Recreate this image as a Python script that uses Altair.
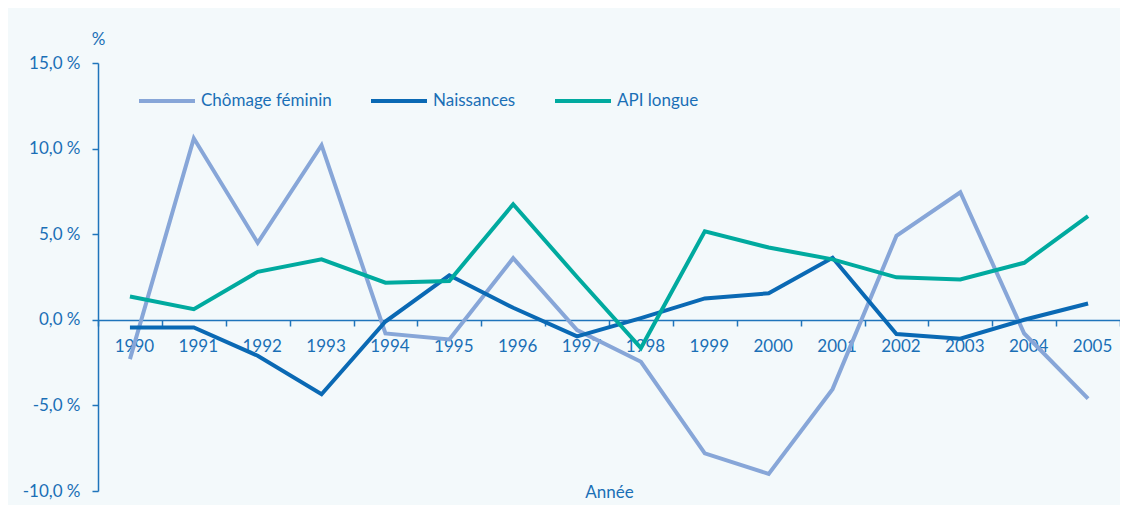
import altair as alt
import pandas as pd

years = [str(y) for y in range(1990, 2006)]
chomage = [-2.3, 10.6, 4.5, 10.2, -0.8, -1.15, 3.6, -0.6, -2.45, -7.8, -9.0, -4.05, 4.9, 7.45, -0.8, -4.6]
naissances = [-0.45, -0.45, -2.1, -4.35, -0.1, 2.6, 0.7, -0.97, 0.1, 1.25, 1.55, 3.62, -0.83, -1.1, 0.0, 0.95]
api = [1.36, 0.62, 2.8, 3.53, 2.17, 2.27, 6.75, 2.5, -1.65, 5.17, 4.22, 3.53, 2.48, 2.36, 3.33, 6.05]
series = ["Chômage féminin", "Naissances", "API longue"]
colors = ["#87a6d8", "#0a69b4", "#00aa9f"]
y_ticks = [-10, -5, 0, 5, 10, 15]

df = pd.DataFrame({
    "Année": years * 3,
    "value": chomage + naissances + api,
    "serie": [s for s in series for _ in years],
    "ordre": [i for i in range(3) for _ in years],
})

FONT = "Lato"
TXT = "#1a6fb6"
AX = "#1f74bb"

chart = alt.Chart(df).mark_line(strokeWidth=4, strokeJoin="miter").encode(
    x=alt.X(
        "Année:O",
        scale=alt.Scale(type="band", paddingInner=0, paddingOuter=0),
        axis=alt.Axis(
            offset=-171,
            tickBand="extent",
            domainColor=AX,
            domainWidth=1.5,
            tickColor=AX,
            tickWidth=1.5,
            tickSize=6,
            labelAngle=0,
            labelFont=FONT,
            labelFontSize=17,
            labelColor=TXT,
            labelPadding=12,
            labelOffset=4,
            labelOverlap=False,
            labelBound=False,
            title="Année",
            titleY=172,
            titleBaseline="middle",
            titleFont=FONT,
            titleFontSize=17,
            titleFontWeight="normal",
            titleColor=TXT,
            grid=False,
        ),
    ),
    y=alt.Y(
        "value:Q",
        scale=alt.Scale(domain=[-10, 15], nice=False, zero=False),
        axis=alt.Axis(
            values=y_ticks,
            labelExpr="replace(replace(format(datum.value, '.1f'), '.', ','), '\u2212', '-') + ' %'",
            domainColor=AX,
            domainWidth=1.5,
            tickColor=AX,
            tickWidth=1.5,
            tickSize=6,
            labelFont=FONT,
            labelFontSize=17,
            labelColor=TXT,
            labelPadding=12,
            title="%",
            titleAngle=0,
            titleX=0,
            titleY=-24,
            titleAlign="center",
            titleBaseline="middle",
            titleFont=FONT,
            titleFontSize=17,
            titleFontWeight="normal",
            titleColor=TXT,
            grid=False,
        ),
    ),
    color=alt.Color(
        "serie:N",
        sort=series,
        scale=alt.Scale(domain=series, range=colors),
        legend=alt.Legend(
            orient="none",
            legendX=39,
            legendY=8,
            direction="horizontal",
            title=None,
            symbolType="stroke",
            symbolSize=3136,
            symbolStrokeWidth=4,
            labelFont=FONT,
            labelFontSize=17,
            labelColor=TXT,
            labelOffset=4,
            columnPadding=31,
        ),
    ),
    order=alt.Order("ordre:Q"),
).properties(
    width=1022,
    height=428,
    autosize=alt.AutoSizeParams(type="none"),
    padding={"left": 90, "top": 55, "right": 0, "bottom": 14},
    background="#f3f9fb",
).configure_view(stroke=None)

chart.save("out.html", embed_options={"renderer": "svg", "actions": False})
